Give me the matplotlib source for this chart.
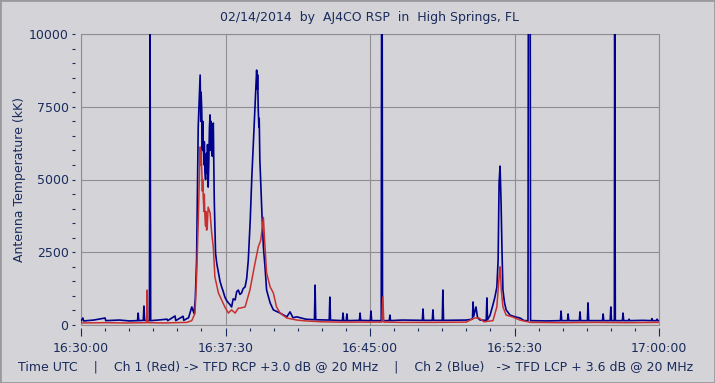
import matplotlib.pyplot as plt
from matplotlib.patches import Rectangle
from matplotlib.ticker import MultipleLocator

# time in seconds after 16:30:00 UTC, antenna temperature in kK
blue_t = [0, 6, 8, 40, 75, 77, 120, 150, 176, 178, 180, 194, 196, 198, 213, 215, 217,
          240, 268, 270, 293, 295, 318, 320, 335, 345, 352, 356, 360, 365, 371, 373, 374,
          376, 378, 379, 381, 383, 384, 386, 388, 389, 391, 393, 394, 396, 398, 400, 402,
          404, 405, 407, 409, 410, 412, 415, 419, 423, 428, 433, 438, 443, 448, 453, 459,
          464, 469, 474, 480, 485, 490, 495, 500, 505, 511, 516, 521, 527, 532, 539, 543,
          545, 547, 549, 550, 552, 554, 555, 557, 563, 568, 573, 578, 589, 599,
          620, 641, 651, 660, 672, 700, 727, 729, 731, 773, 775, 777, 814, 816, 818,
          826, 828, 830, 867, 869, 871, 901, 903, 905, 935, 936, 938, 939, 960, 962,
          964, 1000, 1063, 1065, 1067, 1094, 1096, 1098, 1125, 1127, 1129, 1200, 1219,
          1221, 1223, 1230, 1235, 1243, 1262, 1264, 1266, 1274, 1283, 1289, 1295, 1299,
          1302, 1305, 1308, 1311, 1314, 1319, 1324, 1336, 1352, 1367, 1380, 1392, 1393,
          1399, 1400, 1450, 1493, 1495, 1497, 1515, 1517, 1519, 1552, 1554, 1556, 1577,
          1579, 1581, 1624, 1626, 1628, 1648, 1650, 1652, 1661, 1662, 1664, 1686, 1688,
          1690, 1705, 1707, 1709, 1750, 1776, 1778, 1780, 1792, 1794, 1796, 1800]
blue_v = [140, 240, 140, 170, 240, 150, 170, 140, 150, 410, 150, 160, 650, 160, 150, 10300, 150,
          170, 200, 150, 310, 150, 300, 160, 250, 620, 400, 900, 2230, 6800, 8590, 7000, 8000,
          7390, 6000, 7000, 6120, 5500, 6300, 5330, 5000, 5800, 5900, 5200, 6200, 4740, 5600, 6800, 7220,
          6000, 7000, 6460, 5800, 6700, 6940, 4300, 2470, 2100, 1790, 1500, 1310, 1150, 960, 850, 760,
          700, 620, 900, 860, 1150, 1200, 1050, 1100, 1250, 1310, 1600, 2230, 3600, 5090, 6800, 7700,
          8300, 8760, 8100, 8600, 7390, 6800, 7100, 5670, 3950, 2680, 2000, 1200, 760, 520,
          410, 280, 450, 250, 280, 200, 180, 1370, 180, 170, 960, 170, 150, 410, 150,
          150, 380, 150, 160, 410, 160, 150, 480, 150, 150, 10300, 10300, 150, 150, 340,
          150, 170, 160, 550, 160, 160, 520, 160, 160, 1200, 160, 170, 200,
          790, 300, 620, 250, 170, 160, 930, 180, 340, 700, 960, 1300, 2230,
          4880, 5460, 4300, 2580, 1200, 760, 520, 340, 280, 240, 150, 150, 10300,
          10300, 150, 140, 150, 480, 150, 150, 380, 150, 150, 450, 150, 150,
          760, 150, 150, 380, 150, 150, 620, 150, 150, 10300, 150, 150, 410,
          150, 150, 200, 150, 160, 150, 220, 150, 150, 200, 150, 150]

red_t = [0, 80, 140, 204, 206, 208, 260, 330, 345, 355, 360, 365, 371, 373, 374, 376,
         378, 379, 381, 383, 384, 386, 388, 389, 391, 393, 394, 396, 402, 407, 412, 417,
         428, 438, 448, 459, 469, 480, 490, 495, 511, 526, 542, 552, 560, 568, 573, 578,
         589, 599, 609, 620, 641, 672, 700, 750, 800, 900, 937, 940, 943, 1000, 1100,
         1200, 1225, 1240, 1255, 1283, 1295, 1302, 1305, 1309, 1314, 1324, 1343, 1367,
         1400, 1500, 1600, 1700, 1800]
red_v = [70, 80, 70, 80, 1200, 80, 70, 90, 150, 400, 1650, 3500, 6120, 5500, 6000, 5330,
         4600, 5000, 4300, 3900, 4500, 3710, 3400, 3900, 3260, 3300, 3600, 4050, 3850, 3160, 2680, 1650,
         1100, 860, 620, 410, 520, 410, 580, 580, 620, 1200, 2130, 2680, 2920, 3700, 2680, 1790,
         1310, 1100, 620, 410, 240, 170, 140, 110, 100, 100, 100, 960, 100, 90, 90,
         100, 240, 240, 110, 150, 620, 1650, 2000, 1200, 620, 340, 280, 170,
         90, 80, 90, 80, 90]

x_ticks = [0, 450, 900, 1350, 1800]
x_labels = ['16:30:00', '16:37:30', '16:45:00', '16:52:30', '17:00:00']
y_ticks = [0, 2500, 5000, 7500, 10000]

bg = '#d4d4d8'
txt = '#1a2b5c'
grid_c = '#8e8e92'

plt.rc('font', family='DejaVu Sans', size=9)

fig = plt.figure(figsize=(7.15, 3.83), dpi=100, facecolor=bg)
ax = fig.add_axes([81 / 715, 58 / 383, 578 / 715, 291 / 383], facecolor=bg)

ax.plot(blue_t, blue_v, color='#00008c', lw=1.2)
ax.plot(red_t, red_v, color='#c83030', lw=1.1)

ax.set_xlim(0, 1800)
ax.set_ylim(0, 10000)
ax.set_xticks(x_ticks)
ax.set_xticklabels(x_labels)
ax.set_yticks(y_ticks)
ax.xaxis.set_minor_locator(MultipleLocator(75))
ax.yaxis.set_minor_locator(MultipleLocator(500))

ax.grid(True, which='major', color=grid_c, lw=0.8)
ax.set_axisbelow(True)

for s in ax.spines.values():
    s.set_visible(False)
ax.spines['bottom'].set_position(('outward', 2.2))
ax.spines['left'].set_position(('outward', 4))
ax.add_patch(Rectangle((0, 0), 1, 1, transform=ax.transAxes, fill=False,
                       edgecolor=grid_c, lw=0.8, clip_on=False))

ax.tick_params(axis='x', which='major', length=5.8, width=0.8, color=txt,
               labelcolor=txt, pad=4)
ax.tick_params(axis='x', which='minor', length=2, width=0.8, color=txt)
ax.tick_params(axis='y', which='both', length=2, width=0.8, color=txt,
               labelcolor=txt, pad=3)

ax.set_ylabel('Antenna Temperature (kK)', color=txt, labelpad=2)
fig.text(370 / 715, 1 - 18 / 383, '02/14/2014  by  AJ4CO RSP  in  High Springs, FL',
         ha='center', va='center', color=txt)
fig.text(18 / 715, 1 - 367 / 383,
         'Time UTC    |    Ch 1 (Red) -> TFD RCP +3.0 dB @ 20 MHz    |    '
         'Ch 2 (Blue)   -> TFD LCP + 3.6 dB @ 20 MHz',
         ha='left', va='center', color=txt)

fig.patches.append(Rectangle((0, 0), 1, 1, transform=fig.transFigure, fill=False,
                             edgecolor='#9a9a9e', lw=2))

fig.savefig('out.png', dpi=100, facecolor=bg)
